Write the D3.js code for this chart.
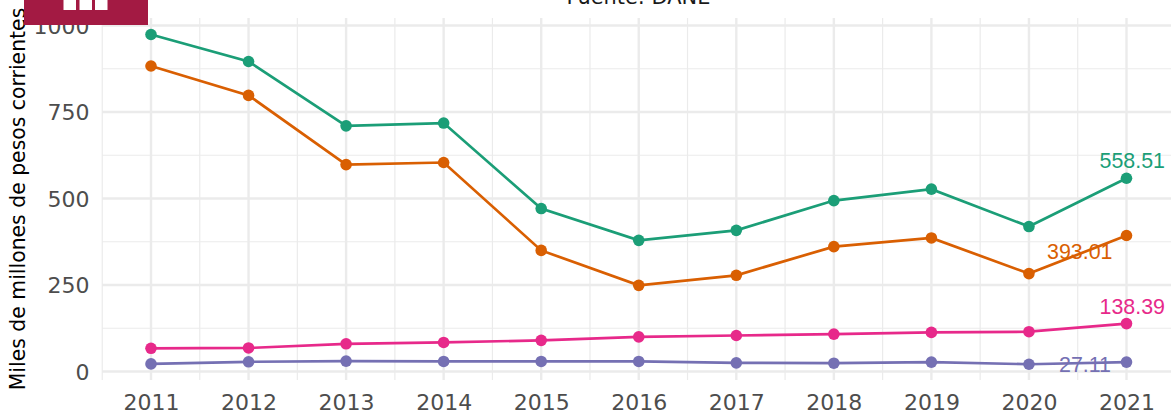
<!DOCTYPE html>
<html lang="es">
  <head>
    <meta charset="UTF-8" />
    <title>Fuente: DANE</title>
    <script src="https://cdn.jsdelivr.net/npm/d3@7"></script>
    <style>
      html, body { margin: 0; padding: 0; background: #fff; overflow: hidden; }
      svg { display: block; }
      text { font-family: "DejaVu Sans", sans-serif; }
    </style>
  </head>
  <body>
    <div id="chart_svg"></div>
    <script>
      const years = [2011, 2012, 2013, 2014, 2015, 2016, 2017, 2018, 2019, 2020, 2021]
      const yTicks = [0, 250, 500, 750, 1000]
      const yMinor = [125, 375, 625, 875]

      const greenValues = [974, 896, 710, 718, 471, 379, 408, 494, 527, 419, 558.51]
      const orangeValues = [883, 798, 598, 604, 350, 249, 278, 361, 386, 283, 393.01]
      const pinkValues = [67, 68, 80, 84, 90, 100, 104, 108, 113, 115, 138.39]
      const purpleValues = [22, 28, 30, 29, 29, 29, 25, 24, 27, 21, 27.11]

      const width = 1171
      const height = 415
      const margin = { left: 102, right: 0, top: 18, bottom: 35 }

      const x = d3.scaleLinear().domain([2011, 2021]).range([151, 1126.5])
      const y = d3.scaleLinear().domain([0, 1000]).range([371.5, 25.5])

      const svg = d3.select('#chart_svg').append('svg').attr('width', width).attr('height', height)

      const panelTop = margin.top
      const panelBottom = height - margin.bottom
      const grid = svg.append('g').attr('stroke', '#ebebeb').attr('fill', 'none')

      // minor grid first, majors on top
      grid.selectAll('.minorY').data(yMinor).join('line')
        .attr('x1', margin.left).attr('x2', width)
        .attr('y1', d => y(d)).attr('y2', d => y(d))
        .attr('stroke-width', 1.2)
      grid.selectAll('.minorX').data(years.slice(0, -1).map(d => d + 0.5).concat([2010.5, 2021.5])).join('line')
        .attr('x1', d => x(d)).attr('x2', d => x(d))
        .attr('y1', panelTop).attr('y2', panelBottom)
        .attr('stroke-width', 1.2)
      grid.selectAll('.majorY').data(yTicks).join('line')
        .attr('x1', margin.left).attr('x2', width)
        .attr('y1', d => y(d)).attr('y2', d => y(d))
        .attr('stroke-width', 2.4)
      grid.selectAll('.majorX').data(years).join('line')
        .attr('x1', d => x(d)).attr('x2', d => x(d))
        .attr('y1', panelTop).attr('y2', panelBottom)
        .attr('stroke-width', 2.4)

      const xAxis = d3.axisBottom(x).tickValues(years).tickFormat(d3.format('d')).tickSize(0).tickPadding(0)
      const gx = svg.append('g').attr('transform', `translate(0,${panelBottom})`).call(xAxis)
      gx.select('.domain').remove()
      gx.selectAll('text').attr('y', 0).attr('dy', 0).attr('transform', 'translate(0,29.5)')
        .attr('fill', '#4d4d4d').style('font-size', '22px')

      const yAxis = d3.axisLeft(y).tickValues(yTicks).tickFormat(d3.format('d')).tickSize(0).tickPadding(0)
      const gy = svg.append('g').attr('transform', 'translate(89.5,0)').call(yAxis)
      gy.select('.domain').remove()
      gy.selectAll('text').attr('dy', '0.36em').attr('x', 0)
        .attr('fill', '#4d4d4d').style('font-size', '22px')

      svg.append('text')
        .attr('transform', 'translate(25,199) rotate(-90)')
        .attr('text-anchor', 'middle')
        .attr('fill', '#000')
        .style('font-size', '20.4px')
        .text('Miles de millones de pesos corrientes')

      svg.append('text')
        .attr('x', 638.5).attr('y', 4)
        .attr('text-anchor', 'middle')
        .attr('fill', '#1a1a1a')
        .style('font-size', '20.9px')
        .text('Fuente: DANE')

      const series = [
        { values: greenValues, color: '#1b9e77', dx: -27, dy: -10.5 },
        { values: orangeValues, color: '#d95f02', dx: -79.5, dy: 23.5 },
        { values: pinkValues, color: '#e7298a', dx: -27, dy: -9.5 },
        { values: purpleValues, color: '#7570b3', dx: -67.5, dy: 9.5 }
      ]

      const line = d3.line().x((d, i) => x(years[i])).y(d => y(d))

      const groups = svg.selectAll('.serie').data(series).join('g')
      groups.append('path')
        .attr('d', d => line(d.values))
        .attr('fill', 'none')
        .attr('stroke', d => d.color)
        .attr('stroke-width', 2.7)
      groups.selectAll('circle').data(d => d.values.map((v, i) => ({ v, i, color: d.color }))).join('circle')
        .attr('cx', d => x(years[d.i]))
        .attr('cy', d => y(d.v))
        .attr('r', 5.8)
        .attr('fill', d => d.color)

      groups.append('text')
        .attr('x', d => x(2021) + d.dx)
        .attr('y', d => y(d.values[d.values.length - 1]) + d.dy)
        .attr('fill', d => d.color)
        .style('font-family', '"Liberation Sans", sans-serif')
        .style('font-size', '21.4px')
        .text(d => d.values[d.values.length - 1])

      // logo
      const logo = svg.append('g')
      logo.append('rect').attr('x', 24).attr('y', 0).attr('width', 124).attr('height', 25).attr('fill', '#a31a43')
      logo.selectAll('rect.b').data([63.5, 79.5, 95]).join('rect').attr('class', 'b')
        .attr('x', d => d).attr('y', 0).attr('width', 12.5).attr('height', 10).attr('fill', '#fff')
    </script>
  </body>
</html>
